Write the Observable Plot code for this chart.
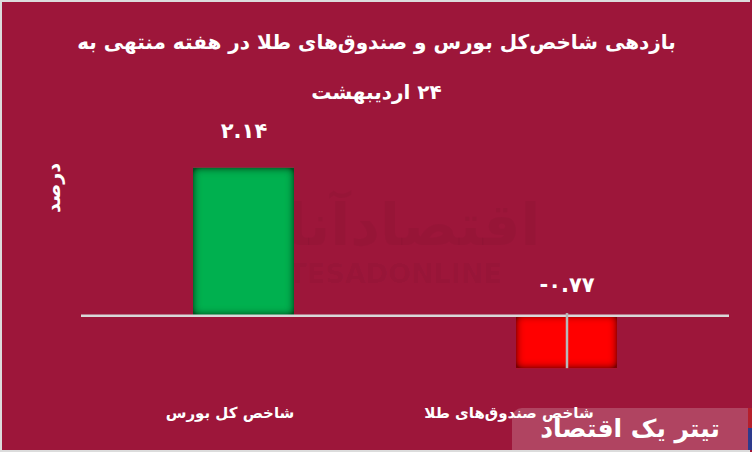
<!DOCTYPE html>
<html><head><meta charset="utf-8">
<script src="https://cdn.jsdelivr.net/npm/d3@7"></script>
<script src="https://cdn.jsdelivr.net/npm/@observablehq/plot@0.6"></script>
<style>
body{margin:0;background:#fff}
#wrap{position:relative;width:752px;height:452px;overflow:hidden;background:#9D163A}
#border{position:absolute;left:0;top:0;width:748px;height:448px;border:2px solid #dcdcdc;border-right:none;pointer-events:none}
#logo{position:absolute;left:512px;top:408px;width:236px;height:42px;background:rgba(255,255,255,0.2);border-radius:10px 0 0 0;color:#fff;font:bold 25px "DejaVu Sans",sans-serif;direction:rtl;text-align:center;line-height:42px}
#strip1{position:absolute;left:748px;top:408px;width:4px;height:20px;background:#B51F2C}
#strip2{position:absolute;left:748px;top:428px;width:4px;height:22px;background:#2E3A8C}
</style></head><body><div id="wrap"></div>
<script>
const categories = ["شاخص کل بورس", "شاخص صندوق‌های طلا"];
const values = [2.14, -0.77];
const titleLines = ["بازدهی شاخص‌کل بورس و صندوق‌های طلا در هفته منتهی به", "۲۴ اردیبهشت"];
const yLabel = "درصد";
const logoText = "تیتر یک اقتصاد";
const watermark = ["اقتصادآنلاین", "EGHTESADONLINE"];

const fa = s => String(s).replace(/\d/g, d => "۰۱۲۳۴۵۶۷۸۹"[d]);
const data = categories.map((c, i) => ({cat: c, value: values[i], label: fa(values[i].toFixed(2))}));
const font = "'DejaVu Sans', sans-serif";
const white = {fill: "#fff", fontWeight: "bold", lineAnchor: "middle"};

const chart = Plot.plot({
  width: 752, height: 452,
  marginLeft: 81, marginRight: 23, marginTop: 143, marginBottom: 68,
  style: {background: "transparent", fontFamily: font, overflow: "visible"},
  x: {domain: categories, paddingInner: 0.687, paddingOuter: 0.3465, axis: null},
  y: {domain: [-1, 2.5], axis: null},
  color: {domain: categories, range: ["#00B050", "#FF0000"]},
  marks: [
    Plot.text(watermark.slice(0,1), {frameAnchor: "middle", dx: -40, dy: -38, text: d => d, fill: "#000", fillOpacity: 0.035, fontSize: 58, fontWeight: "bold", lineAnchor: "middle"}),
    Plot.text(watermark.slice(1), {frameAnchor: "middle", dx: -42, dy: 10, text: d => d, fill: "#000", fillOpacity: 0.045, fontSize: 27, fontWeight: "bold", lineAnchor: "middle"}),
    Plot.barY(data, {x: "cat", y1: 0, y2: "value", fill: "cat"}),
    Plot.ruleY([0], {stroke: "#d9d9d9", strokeWidth: 2.5}),
    Plot.ruleX(data.filter(d => d.value < 0), {x: "cat", y1: 0.03, y2: "value", stroke: "#b8b8b8", strokeWidth: 2.5}),
    Plot.text(data.filter(d => d.value >= 0), {x: "cat", y: "value", text: "label", dy: -37, fontSize: 21, ...white}),
    Plot.text(data.filter(d => d.value < 0), {x: "cat", y: 0, text: "label", dy: -30, fontSize: 21, ...white}),
    Plot.text(data.slice(0,1), {x: "cat", frameAnchor: "bottom", text: "cat", dy: 29, dx: -14, fontSize: 15, ...white}),
    Plot.text(data.slice(1), {x: "cat", frameAnchor: "bottom", text: "cat", dy: 29, dx: -58, fontSize: 15, ...white}),
    Plot.text(titleLines.slice(0,1), {frameAnchor: "top", text: d => d, dx: -29, dy: -101, fontSize: 20, ...white}),
    Plot.text(titleLines.slice(1), {frameAnchor: "top", text: d => d, dx: -29, dy: -51, fontSize: 20, ...white}),
    Plot.text([yLabel], {frameAnchor: "left", text: d => d, rotate: -90, dx: -28, dy: -76, fontSize: 19, textAnchor: "middle", ...white})
  ]
});

const svg = d3.select(chart);
svg.insert("defs", ":first-child").html(`
<filter id="inner" x="-5%" y="-5%" width="110%" height="110%">
  <feGaussianBlur in="SourceAlpha" stdDeviation="4" result="blur"/>
  <feComposite in="SourceAlpha" in2="blur" operator="arithmetic" k1="0" k2="1.7" k3="-1.7" k4="0" result="inv"/>
  <feFlood flood-color="#000" flood-opacity="0.8"/>
  <feComposite in2="inv" operator="in" result="shadow"/>
  <feMerge><feMergeNode in="SourceGraphic"/><feMergeNode in="shadow"/></feMerge>
</filter>`);
svg.selectAll('g[aria-label="bar"] rect').attr("filter", "url(#inner)");
svg.selectAll("text").attr("direction", "rtl");
svg.selectAll("text").filter(function(){ return /^[-\u06F0-\u06F9.]+$/.test(this.textContent); }).attr("direction", "ltr");

const wrap = document.getElementById("wrap");
wrap.appendChild(chart);
wrap.insertAdjacentHTML("beforeend", `<div id="logo">${logoText}</div><div id="strip1"></div><div id="strip2"></div><div id="border"></div>`);
</script>
</body></html>
